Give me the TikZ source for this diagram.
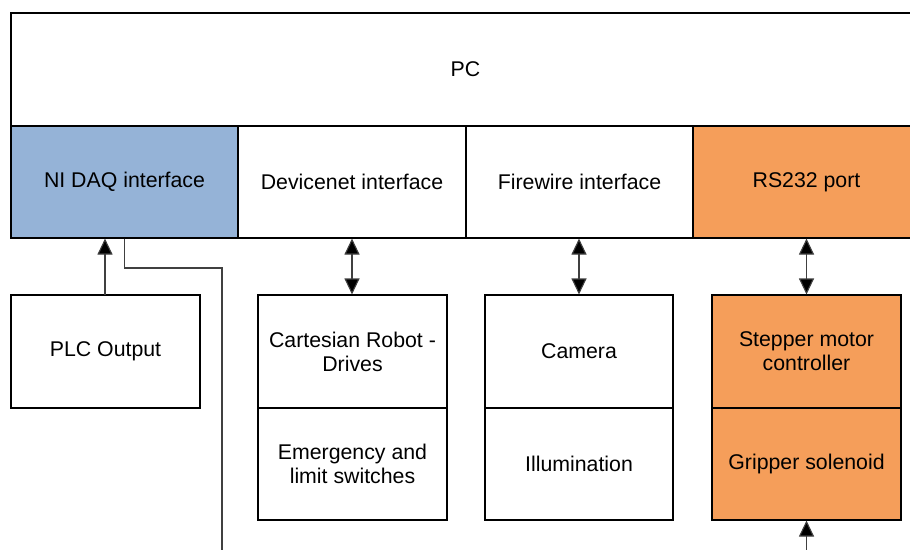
\documentclass[tikz,border=0pt]{standalone}
\usepackage{fontspec}
\setmainfont{Liberation Sans}
\usetikzlibrary{arrows.meta}
\definecolor{daqblue}{HTML}{95B3D7}
\definecolor{rsorange}{HTML}{F59E5A}
\begin{document}
\begin{tikzpicture}[x=1pt,y=-1pt,
  box/.style={draw=black,line width=1.1pt,inner sep=0pt,align=center,
    font=\fontsize{21.3}{24}\selectfont,text=black},
  conn/.style={draw=black!75,line width=1.1pt},
  >={Triangle[width=15pt,length=16pt,fill=black]},
  singlearrow/.style={->},
  doublearrow/.style={<->}]
\useasboundingbox (0,0) rectangle (910,549);
\clip (0,0) rectangle (910,549);
\fill[white] (0,0) rectangle (910,549);
% top row
\node[box,minimum width=909pt,minimum height=113pt] (pc) at (465.5,69.5) {PC};
\node[box,fill=daqblue,minimum width=227pt,minimum height=112pt] (ni) at (124.5,182) {NI DAQ interface};
\node[box,minimum width=228pt,minimum height=112pt] (dn) at (352,182) {Devicenet interface};
\node[box,minimum width=227pt,minimum height=112pt] (fw) at (579.5,182) {Firewire interface};
\node[box,fill=rsorange,minimum width=227pt,minimum height=112pt] (rs) at (806.5,182) {RS232 port};
% lower boxes
\node[box,minimum width=189pt,minimum height=113pt] (plc) at (105.5,351.5) {PLC Output};
\node[box,minimum width=189pt,minimum height=113pt] (crd) at (352.5,351.5) {Cartesian Robot -\\Drives};
\node[box,minimum width=189pt,minimum height=112pt] (emg) at (352.5,464) {Emergency and\\limit switches};
\node[box,minimum width=188pt,minimum height=113pt] (cam) at (579,351.5) {Camera};
\node[box,minimum width=188pt,minimum height=112pt] (ill) at (579,464) {Illumination};
\node[box,fill=rsorange,minimum width=189pt,minimum height=113pt] (stp) at (806.5,351.5) {Stepper motor\\controller};
\node[box,fill=rsorange,minimum width=189pt,minimum height=112pt] (grp) at (806.5,464) {Gripper solenoid};
% connectors
\coordinate (plctop) at (105,295);
\draw[conn,singlearrow] (plctop) -- (plctop |- ni.south);
\coordinate (bend1) at (124.5,268);
\coordinate (bend2) at (222,268);
\coordinate (lineend) at (222,560);
\draw[conn] (ni.south) -- (bend1) -- (bend2) -- (lineend);
\draw[conn,doublearrow] (dn.south) -- (crd.north -| dn.south);
\draw[conn,doublearrow] (cam.north |- fw.south) -- (cam.north);
\draw[conn,doublearrow] (rs.south) -- (stp.north);
\coordinate (grpbottom) at (806.5,560);
\draw[conn,singlearrow] (grpbottom) -- (grp.south);
\end{tikzpicture}
\end{document}
